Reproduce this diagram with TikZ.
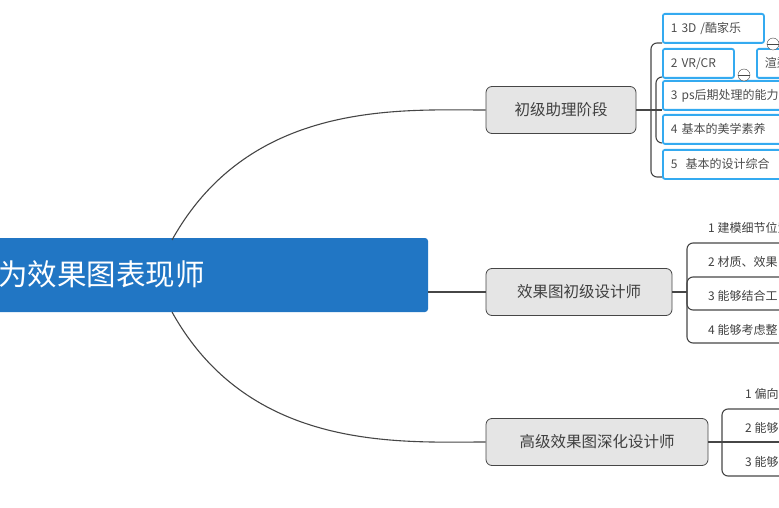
\documentclass[tikz,border=0pt]{standalone}
\usepackage{fontspec}
\setmainfont{Noto Sans CJK SC}
\usetikzlibrary{positioning}
\definecolor{rootblue}{RGB}{33,118,196}
\definecolor{selblue}{RGB}{52,170,240}
\definecolor{linegray}{RGB}{70,70,70}
\tikzset{
  rootnode/.style={rectangle, text=white, font=\fontsize{29.5}{34}\selectfont, anchor=west, inner sep=0pt},
  branch/.style={rectangle, rounded corners=6pt, draw=linegray, fill=black!10, font=\fontsize{15.5}{18}\selectfont, text=black!75, minimum height=47pt, inner sep=0pt, line width=0.8pt},
  selbox/.style={rectangle, rounded corners=2pt, draw=selblue, line width=1.8pt, anchor=north west, minimum height=29pt, font=\fontsize{12}{14}\selectfont, text=black!70, inner xsep=8pt, align=left},
  leaf/.style={anchor=west, font=\fontsize{12}{14}\selectfont, text=black!75, inner sep=0pt},
  link/.style={linegray, line width=1.1pt},
  fold/.style={circle, draw=linegray, fill=white, minimum size=12pt, inner sep=0pt}
}
\begin{document}
\begin{tikzpicture}[x=1pt,y=-1pt]
\useasboundingbox (0,0) rectangle (779,508);
\clip (0,0) rectangle (779,508);

% root
\fill[rootblue, rounded corners=3pt] (-60,238) rectangle (428,312);
\node[rootnode] (root) at (-2,274) {为效果图表现师};
\coordinate (rootup) at (172,240);
\coordinate (rootdn) at (172,312);
\coordinate (rootr) at (428,292);

% branches
\node[branch, minimum width=150pt] (junior) at (561,110) {初级助理阶段};
\node[branch, minimum width=186pt] (design) at (579,292) {效果图初级设计师};
\node[branch, minimum width=222pt] (senior) at (597,442) {高级效果图深化设计师};

\draw[link] (rootup) .. controls (250,100) and (400,110) .. (junior.west);
\draw[link] (rootr) -- (design.west);
\draw[link] (rootdn) .. controls (250,452) and (400,442) .. (senior.west);

% junior children
\draw[link, rounded corners=6pt] (662,43) -- (651,43) -- (651,177) -- (662,177);
\draw[link, rounded corners=6pt] (662,77) -- (656,77) -- (656,143) -- (662,143);
\draw[link] (junior.east) -- (662,110);
\node[selbox, minimum width=101pt, text width=85pt] (j1) at (662,13) {1 3D /酷家乐};
\node[selbox, minimum width=71pt, text width=55pt] (j2) at (662,48) {2 VR/CR};
\node[selbox, minimum width=60pt, text width=44pt] (j2b) at (756,48) {渲染};
\node[selbox, minimum width=160pt, text width=144pt] (j3) at (662,80) {3 ps后期处理的能力};
\node[selbox, minimum width=160pt, text width=144pt] (j4) at (662,114) {4 基本的美学素养};
\node[selbox, minimum width=160pt, text width=144pt] (j5) at (662,149) {5\ \ 基本的设计综合};
\node[fold] (f1) at (773,44) {};
\node[fold] (f2) at (744,75) {};
\draw[linegray, line width=0.8pt] (f1.west) -- (f1.east) (f2.west) -- (f2.east);

% design children
\draw[link, rounded corners=6pt] (800,243) -- (687,243) -- (687,343) -- (800,343);
\draw[link, rounded corners=6pt] (800,277) -- (687,277) -- (687,310) -- (800,310);
\draw[link] (design.east) -- (687,292);
\node[leaf] (d1) at (708,228) {1 建模细节位置};
\node[leaf] (d2) at (708,262) {2 材质、效果};
\node[leaf] (d3) at (708,296) {3 能够结合工};
\node[leaf] (d4) at (708,330) {4 能够考虑整};

% senior children
\draw[link, rounded corners=6pt] (800,409) -- (722,409) -- (722,476) -- (800,476);
\draw[link] (senior.east) -- (800,442);
\node[leaf] (s1) at (745,394) {1 偏向};
\node[leaf] (s2) at (745,428) {2 能够};
\node[leaf] (s3) at (745,462) {3 能够};
\end{tikzpicture}
\end{document}
